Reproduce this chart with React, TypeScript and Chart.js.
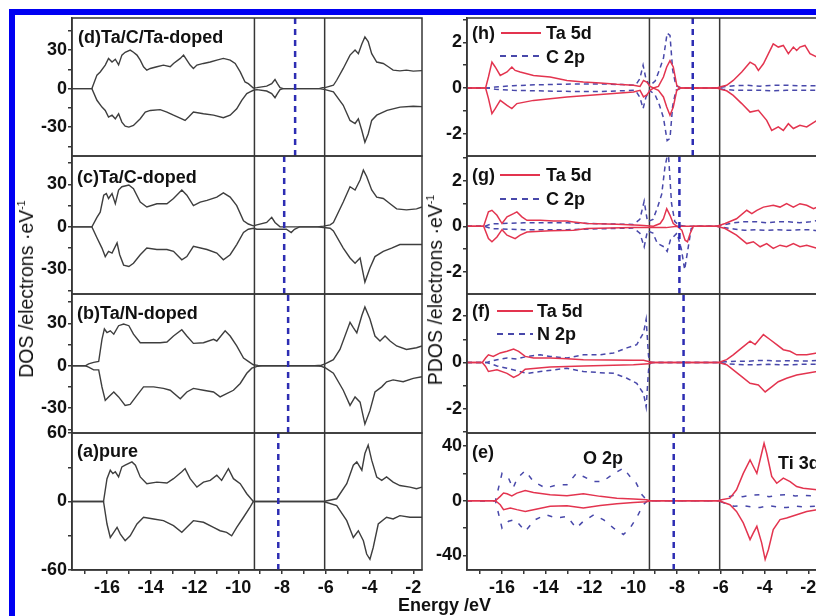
import React, { useEffect, useRef } from 'react';
import { Chart, registerables } from 'chart.js';

Chart.register(...registerables);

type Pts = [number, number][];

// ---------- axis data ----------
const energyMin = -17.6;
const energyMax = -1.6;
const energyTickValues = [-17, -16, -15, -14, -13, -12, -11, -10, -9, -8, -7, -6, -5, -4, -3, -2];
const energyTickLabels = [-16, -14, -12, -10, -8, -6, -4, -2];
const bandEdges = [-9.26, -6.05];
const fermiDOS = [-7.4, -7.9, -7.72, -8.17]; // d, c, b, a
const fermiPDOS = [-7.28, -7.89, -7.7, -8.15]; // h, g, f, e

const yRangeD = [-52.5, 55];
const yRangeC = [-47.4, 50];
const yRangeB = [-47.5, 50.7];
const yRangeA = [-60, 60];
const yRangeH = [-2.97, 3.06];
const yRangeG = [-2.97, 3.08];
const yRangeF = [-3.04, 2.95];
const yRangeE = [-50.6, 49.5];

const yTicksDOS = [-45, -30, -15, 0, 15, 30, 45];
const yLabelsDOS = [-30, 0, 30];
const yTicksPure = [-60, -30, 0, 30, 60];
const yLabelsPure = [-60, 0, 60];
const yTicksPDOS = [-3, -2, -1, 0, 1, 2, 3];
const yLabelsPDOS = [-2, 0, 2];
const yTicksTi = [-40, -20, 0, 20, 40];
const yLabelsTi = [-40, 0, 40];

// ---------- DOS (left column) ----------
const dUp: Pts = [[-17.6,0],[-16.69,0],[-16.46,10.5],[-16.31,13],[-16.08,18.3],[-15.93,23.5],[-15.77,20.7],[-15.62,22.9],[-15.47,18.5],[-15.32,26.1],[-15.17,28.3],[-14.94,30],[-14.79,28.3],[-14.63,26.1],[-14.48,22.2],[-14.33,17],[-14.18,14.4],[-14.02,15.7],[-13.72,17],[-13.42,18.3],[-13.11,17],[-12.96,19.6],[-12.65,23.5],[-12.5,26.1],[-12.35,22.2],[-12.2,18.3],[-12.05,15.7],[-11.89,18.3],[-11.59,19.6],[-11.28,20.7],[-10.98,22.2],[-10.68,23.5],[-10.37,22.2],[-10.14,19.6],[-9.91,13],[-9.69,5.2],[-9.54,3.9],[-9.31,0.5],[-9.15,0.8],[-8.7,1.9],[-8.47,3.9],[-8.32,7.1],[-8.21,3.9],[-8.09,0.8],[-7.94,0],[-6.3,0],[-6.15,0.8],[-6.03,0.8],[-5.65,2.6],[-5.5,6.5],[-5.2,15.7],[-4.89,26.1],[-4.66,30],[-4.51,27.2],[-4.35,34.8],[-4.21,40.3],[-4.06,36.6],[-3.9,27.2],[-3.67,20.7],[-3.37,19.6],[-3.14,17],[-2.92,14.4],[-2.61,13.8],[-2.31,14.4],[-2.0,13.6],[-1.6,14]];
const dDn: Pts = [[-17.6,0],[-16.69,0],[-16.46,-9.1],[-16.23,-14.4],[-16.08,-17],[-15.93,-22.2],[-15.77,-20.7],[-15.62,-23.5],[-15.47,-19.6],[-15.32,-26.1],[-15.17,-29.2],[-15.0,-30],[-14.79,-28.7],[-14.48,-23.5],[-14.25,-18.3],[-14.02,-17],[-13.57,-16.4],[-13.26,-18.3],[-12.96,-20.7],[-12.58,-23.5],[-12.43,-24.8],[-12.27,-22.2],[-12.05,-18.3],[-11.59,-19.6],[-11.13,-20.7],[-10.68,-22.7],[-10.37,-20.7],[-10.07,-15.7],[-9.84,-9.1],[-9.61,-3.9],[-9.46,-2.6],[-9.31,-1.3],[-9.15,-0.8],[-8.7,-1.9],[-8.47,-3.9],[-8.32,-7.1],[-8.21,-3.9],[-8.09,-0.8],[-7.94,0],[-6.3,0],[-6.03,-0.8],[-5.65,-2.6],[-5.2,-13],[-4.89,-24.8],[-4.66,-27.2],[-4.51,-23.5],[-4.35,-32.6],[-4.21,-41.8],[-4.06,-35.3],[-3.9,-24.8],[-3.67,-20.7],[-3.2,-17],[-2.6,-14.4],[-2.0,-13.8],[-1.6,-14]];

const cUp: Pts = [[-17.6,0],[-16.69,0],[-16.46,6.7],[-16.31,10.3],[-16.15,22.3],[-16.03,23.5],[-15.93,20],[-15.77,23.5],[-15.62,16.3],[-15.47,26],[-15.32,28.3],[-15.0,29.5],[-14.79,27],[-14.48,17.5],[-14.18,14],[-13.72,16.3],[-13.26,16.3],[-12.96,20],[-12.58,26],[-12.35,22.3],[-12.05,15],[-11.74,17.5],[-11.43,18.7],[-10.98,21],[-10.68,24],[-10.37,21],[-10.07,15],[-9.76,4.3],[-9.54,2],[-9.31,0.7],[-9.15,1.4],[-8.7,3.1],[-8.47,6.7],[-8.32,3.1],[-8.09,0],[-6.4,0],[-6.1,0.5],[-5.8,1.4],[-5.65,3.1],[-5.2,17.5],[-4.89,28.3],[-4.66,26],[-4.43,33],[-4.28,40],[-4.13,35.5],[-3.9,26],[-3.67,21],[-3.37,20],[-3.06,16.3],[-2.76,12.7],[-2.31,12],[-1.85,12.7],[-1.6,14]];
const cDn: Pts = [[-17.6,0],[-16.69,0],[-16.46,-7.7],[-16.23,-15],[-16.08,-21],[-15.93,-17.3],[-15.77,-18.5],[-15.54,-11.3],[-15.42,-19.7],[-15.24,-27],[-15.0,-28],[-14.79,-25.7],[-14.48,-19.7],[-14.18,-15],[-13.72,-16],[-13.26,-16],[-12.96,-17.3],[-12.58,-23.3],[-12.35,-21],[-12.05,-13.7],[-11.43,-16],[-10.98,-18.5],[-10.68,-23.3],[-10.37,-19.7],[-10.07,-12.5],[-9.76,-4],[-9.54,-1.7],[-9.31,-1],[-9.15,-1.7],[-8.7,-1.7],[-8.2,-1.7],[-7.8,-1.7],[-7.58,-4],[-7.43,-1.7],[-7.2,0],[-6.4,0],[-6.1,-0.5],[-5.8,-1],[-5.65,-2.9],[-5.2,-15],[-4.89,-22],[-4.66,-25.7],[-4.43,-22],[-4.21,-39],[-3.98,-29],[-3.75,-21],[-3.37,-17.3],[-2.99,-15],[-2.61,-12.5],[-2.15,-12.5],[-1.6,-12.5]];

const bUp: Pts = [[-17.6,0],[-16.99,0],[-16.84,1.4],[-16.61,2.4],[-16.38,3],[-16.23,18.7],[-16.12,26],[-16.0,23.5],[-15.85,24.7],[-15.69,22.3],[-15.47,28.3],[-15.24,29.5],[-15.0,28.3],[-14.79,22.3],[-14.48,16.3],[-14.02,16.3],[-13.57,16.3],[-13.26,16.8],[-12.96,21],[-12.58,25.4],[-12.35,21],[-12.05,15.8],[-11.59,16.3],[-11.13,18.7],[-10.98,17.5],[-10.6,24.7],[-10.37,21],[-10.07,14],[-9.76,5.5],[-9.54,3.1],[-9.31,0.7],[-9.1,0.3],[-8.9,0],[-6.5,0],[-6.2,0.4],[-6.03,1.4],[-5.65,4.3],[-5.35,11.5],[-4.89,30.7],[-4.74,27],[-4.58,23.3],[-4.35,35.5],[-4.21,41.5],[-3.98,33],[-3.75,21],[-3.52,17.5],[-3.29,21],[-3.06,17.5],[-2.76,14],[-2.31,11.5],[-1.85,12.7],[-1.6,14]];
const bDn: Pts = [[-17.6,0],[-16.99,0],[-16.84,-1],[-16.61,-2.9],[-16.38,-2.9],[-16.23,-15],[-16.08,-24.5],[-15.93,-22],[-15.69,-18.5],[-15.47,-22],[-15.17,-28],[-14.94,-27.3],[-14.63,-20.9],[-14.33,-14.9],[-13.87,-14.9],[-13.42,-16],[-13.11,-17.3],[-12.65,-23.3],[-12.35,-18.5],[-12.05,-16],[-11.59,-17.3],[-11.13,-18.5],[-10.83,-22],[-10.53,-19.7],[-10.22,-17.3],[-9.91,-12.5],[-9.61,-5.3],[-9.38,-1.7],[-9.1,-0.3],[-8.9,0],[-6.5,0],[-6.2,-0.4],[-6.03,-1.4],[-5.65,-5.3],[-5.2,-17.3],[-4.89,-28],[-4.66,-22],[-4.43,-25.7],[-4.21,-41.2],[-3.98,-31.7],[-3.75,-18.5],[-3.44,-14.9],[-3.22,-11.3],[-2.92,-10],[-2.46,-11.3],[-2.0,-8.9],[-1.6,-7.7]];

const aUp: Pts = [[-17.6,0],[-16.16,0],[-16.0,20],[-15.85,27.4],[-15.73,24.4],[-15.62,26],[-15.47,21.5],[-15.32,30.3],[-15.17,31.8],[-14.86,34.7],[-14.7,31.8],[-14.48,21.5],[-14.18,15.6],[-13.72,17],[-13.26,16.2],[-12.96,20],[-12.58,26],[-12.43,28.8],[-12.2,20],[-11.89,12.6],[-11.59,17],[-11.28,18.5],[-10.98,23],[-10.76,18.5],[-10.45,28.8],[-10.22,20],[-9.91,15.6],[-9.61,6.8],[-9.31,0],[-6.1,0],[-5.5,2.4],[-5.04,15.6],[-4.74,31.8],[-4.58,34.7],[-4.35,27.4],[-4.21,42],[-4.06,49.4],[-3.9,36.2],[-3.67,21.5],[-3.44,18.5],[-3.22,21.5],[-2.92,17],[-2.61,14],[-2.15,12.6],[-1.85,11.2],[-1.6,12.6]];
const aDn: Pts = [[-17.6,0],[-16.16,0],[-16.0,-19.7],[-15.85,-31.5],[-15.69,-27],[-15.54,-22.6],[-15.39,-28.5],[-15.17,-34.4],[-14.94,-30],[-14.63,-19.7],[-14.33,-13.8],[-13.87,-15.3],[-13.42,-16.8],[-12.96,-21.2],[-12.58,-27],[-12.35,-22.6],[-12.05,-16.8],[-11.59,-18.2],[-11.13,-22.6],[-10.83,-25.6],[-10.53,-27],[-10.3,-30],[-10.07,-22.6],[-9.76,-13.8],[-9.46,-5],[-9.31,0],[-6.1,0],[-5.5,-3.5],[-5.04,-16.8],[-4.74,-31.5],[-4.51,-25.6],[-4.28,-34.4],[-4.13,-46],[-3.98,-50.6],[-3.83,-40.3],[-3.6,-19.7],[-3.22,-13.8],[-2.92,-15.3],[-2.61,-12.4],[-2.15,-13.8],[-1.6,-13.8]];

// ---------- PDOS (right column) ----------
const hTaUp: Pts = [[-17.6,0],[-16.75,0],[-16.62,0.48],[-16.46,1.13],[-16.31,0.92],[-16.08,0.55],[-15.77,0.7],[-15.55,0.92],[-15.4,0.77],[-15.17,0.7],[-14.56,0.55],[-13.8,0.48],[-13.03,0.33],[-12.28,0.26],[-11.51,0.22],[-10.75,0.16],[-9.99,0.12],[-9.69,0.07],[-9.53,0.33],[-9.38,0.26],[-9.23,0.07],[-9.08,0],[-8.85,0.07],[-8.62,0.48],[-8.47,0.92],[-8.32,1.2],[-8.17,0.92],[-8.01,0.12],[-7.86,0],[-6.18,0],[-5.96,0.07],[-5.73,0.12],[-5.43,0.33],[-5.04,0.7],[-4.66,1.13],[-4.43,1.0],[-4.28,0.77],[-4.05,1.06],[-3.82,1.5],[-3.6,1.93],[-3.37,1.79],[-3.14,1.86],[-2.91,1.5],[-2.68,1.79],[-2.53,1.64],[-2.38,1.79],[-2.15,1.86],[-1.92,1.5],[-1.6,1.35]];
const hTaDn: Pts = [[-17.6,0],[-16.75,0],[-16.62,-0.45],[-16.46,-1.12],[-16.31,-0.9],[-16.08,-0.54],[-15.77,-0.76],[-15.55,-0.9],[-15.32,-0.68],[-14.56,-0.54],[-13.8,-0.47],[-13.03,-0.39],[-11.51,-0.28],[-9.99,-0.17],[-9.69,-0.1],[-9.53,-0.39],[-9.38,-0.3],[-9.23,-0.1],[-9.08,0],[-8.85,-0.1],[-8.62,-0.39],[-8.47,-0.83],[-8.32,-1.19],[-8.17,-0.83],[-8.01,-0.1],[-7.86,0],[-6.18,0],[-5.96,-0.07],[-5.73,-0.12],[-5.43,-0.32],[-5.04,-0.68],[-4.66,-1.05],[-4.28,-0.97],[-3.9,-1.41],[-3.67,-1.85],[-3.37,-1.7],[-3.14,-1.85],[-2.91,-1.56],[-2.68,-1.77],[-2.38,-1.63],[-2.07,-1.7],[-1.6,-1.41]];
const hCUp: Pts = [[-17.6,0],[-16.6,0],[-16.3,0.05],[-15.5,0.1],[-14.5,0.14],[-13.5,0.16],[-12.5,0.18],[-11.5,0.18],[-10.5,0.15],[-9.9,0.12],[-9.7,0.4],[-9.55,1.0],[-9.42,0.4],[-9.25,0.1],[-9.0,0.3],[-8.8,0.8],[-8.62,1.3],[-8.45,2.4],[-8.32,2.3],[-8.2,0.8],[-8.05,0.1],[-7.8,0],[-6.2,0],[-5.9,0.05],[-5.4,0.1],[-4.8,0.12],[-4.2,0.08],[-3.6,0.12],[-3.0,0.12],[-2.4,0.1],[-1.6,0.1]];
const hCDn: Pts = [[-17.6,0],[-16.6,0],[-16.3,-0.05],[-15.5,-0.1],[-14.5,-0.12],[-13.5,-0.14],[-12.5,-0.15],[-11.5,-0.15],[-10.5,-0.12],[-9.9,-0.1],[-9.7,-0.4],[-9.55,-0.9],[-9.42,-0.4],[-9.25,-0.1],[-9.0,-0.3],[-8.8,-0.75],[-8.62,-1.3],[-8.45,-2.3],[-8.32,-2.2],[-8.2,-0.8],[-8.05,-0.1],[-7.8,0],[-6.2,0],[-5.9,-0.05],[-5.4,-0.1],[-4.8,-0.1],[-4.2,-0.1],[-3.6,-0.12],[-3.0,-0.1],[-2.4,-0.1],[-1.6,-0.1]];

const gTaUp: Pts = [[-17.6,0],[-16.84,0],[-16.62,0.63],[-16.46,0.7],[-16.23,0.48],[-16.0,0.12],[-15.77,0.41],[-15.47,0.55],[-15.32,0.63],[-15.09,0.41],[-14.86,0.26],[-14.25,0.26],[-13.64,0.23],[-13.03,0.23],[-12.73,0.19],[-12.12,0.12],[-10.75,0.09],[-9.69,0.04],[-9.08,0],[-8.77,0.12],[-8.62,0.33],[-8.47,0.77],[-8.32,0.48],[-8.17,0.12],[-8.0,0],[-6.18,0],[-5.8,0.12],[-5.28,0.33],[-4.81,0.7],[-4.58,0.55],[-4.35,0.7],[-4.05,0.84],[-3.6,0.92],[-3.29,0.84],[-2.99,0.99],[-2.68,0.84],[-2.38,0.99],[-2.07,0.92],[-1.76,0.77],[-1.6,0.84]];
const gTaDn: Pts = [[-17.6,0],[-16.84,0],[-16.62,-0.54],[-16.46,-0.68],[-16.23,-0.47],[-16.0,-0.15],[-15.77,-0.39],[-15.4,-0.54],[-15.17,-0.39],[-14.86,-0.25],[-13.8,-0.2],[-12.73,-0.17],[-12.12,-0.1],[-9.99,-0.06],[-8.5,-0.06],[-8.0,0],[-7.78,-0.17],[-7.63,-0.61],[-7.52,-0.68],[-7.4,-0.32],[-7.25,0],[-6.18,0],[-5.8,-0.1],[-5.28,-0.39],[-4.81,-0.76],[-4.51,-0.68],[-4.2,-0.9],[-3.9,-0.76],[-3.6,-0.97],[-3.29,-0.83],[-2.99,-0.9],[-2.68,-0.76],[-2.38,-0.9],[-2.07,-0.83],[-1.6,-0.97]];
const gCUp: Pts = [[-17.6,0],[-16.8,0],[-16.5,0.1],[-16,0.12],[-15,0.15],[-14,0.15],[-13,0.15],[-12,0.12],[-11,0.1],[-10,0.08],[-9.7,0.3],[-9.5,1.1],[-9.35,0.2],[-9.1,0.3],[-8.9,0.8],[-8.7,1.4],[-8.55,2.6],[-8.4,3.3],[-8.25,1.0],[-8.1,0.2],[-7.9,0.05],[-7.6,0],[-6.2,0],[-5.9,0.05],[-5.4,0.15],[-4.9,0.2],[-4.4,0.2],[-3.9,0.15],[-3.4,0.2],[-2.9,0.2],[-2.4,0.15],[-1.9,0.2],[-1.6,0.25]];
const gCDn: Pts = [[-17.6,0],[-16.8,0],[-16.5,-0.1],[-16,-0.12],[-15,-0.15],[-14,-0.15],[-13,-0.15],[-12,-0.12],[-11,-0.1],[-10,-0.08],[-9.7,-0.3],[-9.5,-0.9],[-9.35,-0.2],[-9.1,-0.3],[-8.9,-0.75],[-8.6,-0.9],[-8.45,-1.1],[-8.3,-0.6],[-8.0,-0.3],[-7.8,-1.0],[-7.65,-1.9],[-7.5,-1.0],[-7.35,-0.1],[-7.1,0],[-6.2,0],[-5.9,-0.05],[-5.4,-0.12],[-4.9,-0.18],[-4.4,-0.15],[-3.9,-0.18],[-3.4,-0.15],[-2.9,-0.18],[-2.4,-0.15],[-1.9,-0.15],[-1.6,-0.2]];

const fTaUp: Pts = [[-17.6,0],[-16.9,0],[-16.75,0.19],[-16.62,0.33],[-16.4,0.26],[-16.08,0.41],[-15.77,0.48],[-15.47,0.58],[-15.24,0.48],[-14.94,0.26],[-14.56,0.19],[-13.8,0.19],[-13.03,0.16],[-12.28,0.12],[-9.99,0.09],[-9.53,0.09],[-9.3,0.04],[-9.1,0],[-6.1,0],[-5.73,0.12],[-5.43,0.33],[-5.04,0.63],[-4.66,0.92],[-4.43,0.77],[-4.05,1.2],[-3.75,0.99],[-3.44,0.77],[-3.14,0.55],[-2.83,0.48],[-2.53,0.33],[-2.07,0.33],[-1.6,0.41]];
const fTaDn: Pts = [[-17.6,0],[-16.9,0],[-16.75,-0.17],[-16.62,-0.39],[-16.23,-0.32],[-15.77,-0.47],[-15.47,-0.64],[-15.24,-0.54],[-14.94,-0.29],[-13.8,-0.2],[-12.28,-0.15],[-9.99,-0.1],[-9.3,-0.06],[-9.1,0],[-6.1,0],[-5.73,-0.1],[-5.43,-0.32],[-5.04,-0.61],[-4.66,-0.9],[-4.28,-0.97],[-3.97,-1.27],[-3.67,-1.05],[-3.37,-0.83],[-2.99,-0.68],[-2.53,-0.54],[-2.07,-0.47],[-1.6,-0.39]];
const fNUp: Pts = [[-17.6,0],[-16.7,0],[-16.23,0.12],[-15.77,0.19],[-15.32,0.15],[-14.86,0.26],[-14.25,0.33],[-13.8,0.26],[-13.03,0.19],[-12.28,0.33],[-11.51,0.33],[-10.9,0.41],[-10.29,0.63],[-9.84,0.77],[-9.53,1.28],[-9.41,1.86],[-9.3,0.26],[-9.2,0],[-6.1,0],[-5.8,0.03],[-5.3,0.05],[-4.8,0.05],[-4.3,0.08],[-3.8,0.08],[-3.3,0.06],[-2.8,0.08],[-2.3,0.06],[-1.6,0.08]];
const fNDn: Pts = [[-17.6,0],[-16.7,0],[-16.23,-0.15],[-15.77,-0.25],[-14.86,-0.47],[-14.25,-0.39],[-13.03,-0.25],[-12.28,-0.39],[-11.51,-0.44],[-10.9,-0.47],[-10.29,-0.68],[-9.84,-0.9],[-9.53,-1.34],[-9.41,-1.92],[-9.3,-0.32],[-9.2,0],[-6.1,0],[-5.8,-0.05],[-5.3,-0.08],[-4.8,-0.1],[-4.3,-0.1],[-3.8,-0.08],[-3.3,-0.1],[-2.8,-0.1],[-2.3,-0.08],[-1.6,-0.08]];

const eTiUp: Pts = [[-17.6,0],[-16.3,0],[-16.08,3.2],[-15.93,5.6],[-15.77,5.1],[-15.55,3.6],[-15.32,5.6],[-14.94,7.5],[-14.56,6],[-13.8,4.4],[-13.03,3.6],[-12.28,5.1],[-11.51,3.2],[-10.75,1.9],[-9.99,1.2],[-9.38,0.7],[-9.23,0],[-6.1,0],[-5.96,0.7],[-5.58,1.9],[-5.28,8],[-4.97,20],[-4.66,29.8],[-4.51,25],[-4.35,20],[-4.13,34.7],[-4.02,42],[-3.9,34.7],[-3.67,17.7],[-3.44,12.8],[-3.14,16.5],[-2.83,14],[-2.53,10.4],[-2.23,9.2],[-1.6,8]];
const eTiDn: Pts = [[-17.6,0],[-16.3,0],[-16.08,-2.9],[-15.93,-6.5],[-15.62,-5.3],[-15.32,-6.5],[-14.94,-7.8],[-14.56,-6.5],[-13.8,-4.1],[-13.03,-3.6],[-12.28,-5.3],[-11.51,-3.4],[-10.75,-2.2],[-9.99,-1.2],[-9.38,-0.7],[-9.23,0],[-6.1,0],[-5.96,-0.7],[-5.58,-2.9],[-5.28,-7.8],[-4.97,-16.2],[-4.66,-28.4],[-4.51,-23.5],[-4.35,-18.7],[-4.13,-30.8],[-3.97,-42.9],[-3.82,-35.6],[-3.6,-21],[-3.29,-13.8],[-2.99,-12.6],[-2.53,-10.2],[-2.07,-7.8],[-1.6,-6.5]];
const eOUp: Pts = [[-17.6,0],[-16.3,0],[-16.0,20],[-15.7,16.5],[-15.5,9],[-15.3,16.5],[-14.94,22],[-14.56,14],[-14.0,9.2],[-13.5,11.6],[-13.03,11.6],[-12.6,20],[-12.28,17.7],[-11.8,14],[-11.4,14],[-11.0,18.7],[-10.75,21],[-10.45,23.8],[-10.15,17.7],[-9.9,14],[-9.6,4.4],[-9.35,0],[-6.1,0],[-5.8,2],[-5.4,4],[-5.0,3],[-4.6,4],[-4.2,4.5],[-3.8,3],[-3.4,4],[-3.0,4.5],[-2.6,3.5],[-2.2,4],[-1.6,3.5]];
const eODn: Pts = [[-17.6,0],[-16.3,0],[-16.0,-20],[-15.7,-15],[-15.4,-13.8],[-14.94,-22.3],[-14.5,-14],[-14.0,-10.2],[-13.5,-12.6],[-13.03,-11.4],[-12.6,-20],[-12.28,-15],[-11.8,-10.2],[-11.35,-14],[-10.9,-20],[-10.45,-24.7],[-10.15,-20],[-9.85,-12.6],[-9.55,-3],[-9.35,0],[-6.1,0],[-5.8,-2],[-5.4,-4],[-5.0,-3.5],[-4.6,-4.5],[-4.2,-5],[-3.8,-3.5],[-3.4,-4.5],[-3.0,-5],[-2.6,-4],[-2.2,-4.5],[-1.6,-4]];

// ---------- styles ----------
const FONT = "'Liberation Sans', Arial, Helvetica, sans-serif";
const DOS_COLOR = '#3e3e3e';
const TA_COLOR = '#e3344f';
const P_COLOR = '#4848aa';
const FERMI_COLOR = '#2d2db3';
const EDGE_COLOR = '#363636';
const BLUE_FRAME = '#0000f2';

const LEFT_X = 72;
const RIGHT_X = 467;
const PLOT_W = 350;
const ROW_TOPS = [18, 156, 294, 433];
const ROW_BOTS = [156, 294, 433, 570];
const PAD = 12;
const YW = 70;
const XH = 40;

interface Curve { pts: Pts; color: string; width: number; dash?: number[] }

const framePlugin: any = {
  id: 'frame',
  afterDatasetsDraw(chart: any) {
    const { ctx, chartArea: a } = chart;
    ctx.save();
    ctx.strokeStyle = EDGE_COLOR;
    ctx.lineWidth = 1.5;
    ctx.strokeRect(a.left, a.top, a.right - a.left, a.bottom - a.top);
    ctx.restore();
  },
};

function Panel(props: {
  x: number; row: number; yRange: number[]; yTicks: number[]; yLabels: number[];
  curves: Curve[]; fermi: number;
}) {
  const ref = useRef<HTMLCanvasElement>(null);
  const top = ROW_TOPS[props.row];
  const bottom = ROW_BOTS[props.row];
  const xAxis = props.row === 3;
  const h = bottom - top;
  const cw = YW + PLOT_W + PAD;
  const ch = PAD + h + (xAxis ? XH : PAD);

  useEffect(() => {
    const [yMin, yMax] = props.yRange;
    const datasets: any[] = [];
    datasets.push({
      data: [{ x: props.fermi, y: yMin }, { x: props.fermi, y: yMax }],
      borderColor: FERMI_COLOR, borderWidth: 2.5, borderDash: [6, 5], pointRadius: 0,
    });
    props.curves.forEach((c) => {
      datasets.push({
        data: c.pts.map(([x, y]) => ({ x, y })),
        borderColor: c.color, borderWidth: c.width, borderDash: c.dash || [],
        pointRadius: 0, tension: 0, fill: false,
      });
    });
    bandEdges.forEach((e) => {
      datasets.push({
        data: [{ x: e, y: yMin }, { x: e, y: yMax }],
        borderColor: EDGE_COLOR, borderWidth: 1.5, pointRadius: 0,
      });
    });
    const font = { family: FONT, size: 18, weight: 'bold' as const };
    const chart = new Chart(ref.current as HTMLCanvasElement, {
      type: 'line',
      data: { datasets },
      options: {
        responsive: false,
        animation: false,
        events: [],
        layout: { padding: { left: 0, top: PAD, right: PAD, bottom: xAxis ? 0 : PAD }, autoPadding: false } as any,
        plugins: { legend: { display: false }, tooltip: { enabled: false } },
        scales: {
          x: {
            type: 'linear', min: energyMin, max: energyMax, display: xAxis,
            afterBuildTicks: (s: any) => { s.ticks = energyTickValues.map((v) => ({ value: v })); },
            afterFit: (s: any) => { s.height = xAxis ? XH : 0; },
            ticks: {
              autoSkip: false, maxRotation: 0, minRotation: 0, padding: 3, color: '#111', font,
              callback: (v: any) => (energyTickLabels.includes(Number(v)) ? String(v) : ''),
            },
            grid: { display: true, drawOnChartArea: false, drawTicks: true, tickLength: 4, color: EDGE_COLOR, lineWidth: 1.5 },
            border: { display: true, color: EDGE_COLOR, width: 1.5 },
          },
          y: {
            type: 'linear', min: yMin, max: yMax,
            afterBuildTicks: (s: any) => {
              s.ticks = props.yTicks.filter((v) => v >= yMin && v <= yMax).map((v) => ({ value: v }));
            },
            afterFit: (s: any) => { s.width = YW; },
            ticks: {
              autoSkip: false, padding: 1, color: '#111', font,
              callback: (v: any) => (props.yLabels.includes(Number(v)) ? String(v) : ''),
            },
            grid: { display: true, drawOnChartArea: false, drawTicks: true, tickLength: 4, color: EDGE_COLOR, lineWidth: 1.5 },
            border: { display: true, color: EDGE_COLOR, width: 1.5 },
          },
        },
      } as any,
      plugins: [framePlugin],
    });
    return () => chart.destroy();
  }, []);

  return (
    <canvas
      ref={ref}
      width={cw}
      height={ch}
      style={{ position: 'absolute', left: props.x - YW, top: top - PAD, width: cw, height: ch }}
    />
  );
}

function Txt(props: { x: number; y: number; children: any; size?: number; bold?: boolean }) {
  return (
    <div
      style={{
        position: 'absolute', left: props.x, top: props.y, transform: 'translateY(-50%)',
        fontFamily: FONT, fontSize: props.size || 18, fontWeight: props.bold === false ? 'normal' : 'bold',
        lineHeight: 1, whiteSpace: 'nowrap', color: '#111',
      }}
    >
      {props.children}
    </div>
  );
}

function VTitle(props: { cx: number; cy: number; children: any }) {
  return (
    <div
      style={{
        position: 'absolute', left: props.cx, top: props.cy,
        transform: 'translate(-50%, -50%) rotate(-90deg)',
        fontFamily: FONT, fontSize: 19.5, lineHeight: 1, whiteSpace: 'nowrap', color: '#111',
      }}
    >
      {props.children}
    </div>
  );
}

function Swatch(props: { x1: number; x2: number; y: number; color: string; dash?: string }) {
  const w = props.x2 - props.x1;
  return (
    <svg style={{ position: 'absolute', left: props.x1, top: props.y - 3 }} width={w} height={6}>
      <line x1={0} y1={3} x2={w} y2={3} stroke={props.color} strokeWidth={2} strokeDasharray={props.dash} />
    </svg>
  );
}

const dos = (up: Pts, dn: Pts): Curve[] => [
  { pts: up, color: DOS_COLOR, width: 1.4 },
  { pts: dn, color: DOS_COLOR, width: 1.4 },
];
const pdos = (tu: Pts, td: Pts, pu: Pts, pd: Pts, dash: number[]): Curve[] => [
  { pts: tu, color: TA_COLOR, width: 1.5 },
  { pts: td, color: TA_COLOR, width: 1.5 },
  { pts: pu, color: P_COLOR, width: 1.5, dash },
  { pts: pd, color: P_COLOR, width: 1.5, dash },
];

export default function App() {
  return (
    <div style={{ position: 'absolute', left: 0, top: 0, width: 816, height: 616, overflow: 'hidden', background: '#fff' }}>
      <div style={{ position: 'absolute', left: 9, top: 9, width: 900, height: 700, borderLeft: `6px solid ${BLUE_FRAME}`, borderTop: `6px solid ${BLUE_FRAME}` }} />

      <Panel x={LEFT_X} row={0} yRange={yRangeD} yTicks={yTicksDOS} yLabels={yLabelsDOS} curves={dos(dUp, dDn)} fermi={fermiDOS[0]} />
      <Panel x={LEFT_X} row={1} yRange={yRangeC} yTicks={yTicksDOS} yLabels={yLabelsDOS} curves={dos(cUp, cDn)} fermi={fermiDOS[1]} />
      <Panel x={LEFT_X} row={2} yRange={yRangeB} yTicks={yTicksDOS} yLabels={yLabelsDOS} curves={dos(bUp, bDn)} fermi={fermiDOS[2]} />
      <Panel x={LEFT_X} row={3} yRange={yRangeA} yTicks={yTicksPure} yLabels={yLabelsPure} curves={dos(aUp, aDn)} fermi={fermiDOS[3]} />

      <Panel x={RIGHT_X} row={0} yRange={yRangeH} yTicks={yTicksPDOS} yLabels={yLabelsPDOS} curves={pdos(hTaUp, hTaDn, hCUp, hCDn, [5, 4])} fermi={fermiPDOS[0]} />
      <Panel x={RIGHT_X} row={1} yRange={yRangeG} yTicks={yTicksPDOS} yLabels={yLabelsPDOS} curves={pdos(gTaUp, gTaDn, gCUp, gCDn, [5, 4])} fermi={fermiPDOS[1]} />
      <Panel x={RIGHT_X} row={2} yRange={yRangeF} yTicks={yTicksPDOS} yLabels={yLabelsPDOS} curves={pdos(fTaUp, fTaDn, fNUp, fNDn, [5, 4])} fermi={fermiPDOS[2]} />
      <Panel x={RIGHT_X} row={3} yRange={yRangeE} yTicks={yTicksTi} yLabels={yLabelsTi} curves={pdos(eTiUp, eTiDn, eOUp, eODn, [5, 8])} fermi={fermiPDOS[3]} />

      {/* left panel labels */}
      <Txt x={78} y={36.5}>(d)Ta/C/Ta-doped</Txt>
      <Txt x={77} y={176.5}>(c)Ta/C-doped</Txt>
      <Txt x={77} y={312.5}>(b)Ta/N-doped</Txt>
      <Txt x={77} y={451}>(a)pure</Txt>

      {/* right panel legends */}
      <Txt x={472} y={33}>(h)</Txt>
      <Swatch x1={501} x2={541} y={32.5} color={TA_COLOR} />
      <Txt x={546} y={33}>Ta 5d</Txt>
      <Swatch x1={500} x2={542} y={56} color={P_COLOR} dash="6 5" />
      <Txt x={546} y={56.5}>C 2p</Txt>

      <Txt x={472} y={174.5}>(g)</Txt>
      <Swatch x1={500} x2={540} y={174.5} color={TA_COLOR} />
      <Txt x={546} y={174.5}>Ta 5d</Txt>
      <Swatch x1={500} x2={541} y={198.5} color={P_COLOR} dash="6 5" />
      <Txt x={546} y={198.5}>C 2p</Txt>

      <Txt x={472} y={311}>(f)</Txt>
      <Swatch x1={497} x2={533} y={310.5} color={TA_COLOR} />
      <Txt x={537} y={311}>Ta 5d</Txt>
      <Swatch x1={497} x2={533} y={333.5} color={P_COLOR} dash="6 5" />
      <Txt x={537} y={333.5}>N 2p</Txt>

      <Txt x={472} y={451.5}>(e)</Txt>
      <Txt x={583} y={458}>O 2p</Txt>
      <Txt x={778} y={463}>Ti 3d</Txt>

      {/* axis titles */}
      <VTitle cx={26} cy={289}>DOS /electrons ·eV<sup style={{ fontSize: '0.55em' }}>-1</sup></VTitle>
      <VTitle cx={435} cy={290}>PDOS /electrons ·eV<sup style={{ fontSize: '0.55em' }}>-1</sup></VTitle>
      <Txt x={398} y={605}>Energy /eV</Txt>
    </div>
  );
}
